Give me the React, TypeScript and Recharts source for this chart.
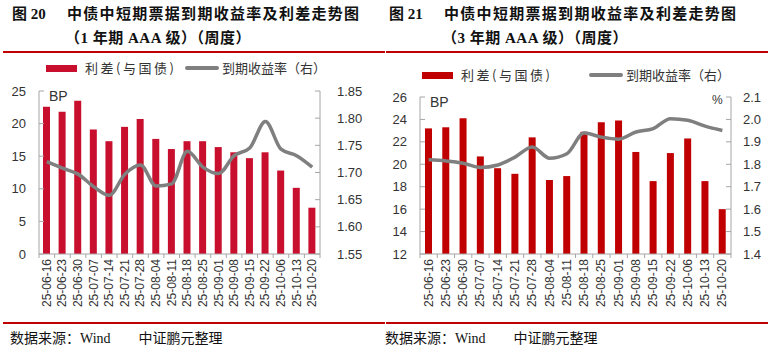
import React from "react"
import { ComposedChart, Bar, Line, XAxis, YAxis } from "recharts"

const dates = ['25-06-16', '25-06-23', '25-06-30', '25-07-07', '25-07-14', '25-07-21', '25-07-28', '25-08-04', '25-08-11', '25-08-18', '25-08-25', '25-09-01', '25-09-08', '25-09-15', '25-09-22', '25-10-06', '25-10-13', '25-10-20']

const spread1y = [22.6, 21.8, 23.5, 19.1, 17.3, 19.5, 20.7, 17.65, 16.1, 17.3, 17.3, 16.4, 15.6, 14.7, 15.6, 12.8, 10.15, 7.1]
const yield1y = [1.72, 1.708, 1.697, 1.674, 1.658, 1.697, 1.714, 1.675, 1.679, 1.739, 1.71, 1.698, 1.731, 1.745, 1.794, 1.743, 1.731, 1.71]

const spread3y = [23.2, 23.3, 24.1, 20.7, 19.65, 19.15, 22.4, 18.6, 18.95, 22.9, 23.75, 23.9, 21.1, 18.5, 21.0, 22.3, 18.5, 16.0]
const yield3y = [1.82, 1.815, 1.805, 1.786, 1.797, 1.832, 1.877, 1.827, 1.847, 1.939, 1.921, 1.912, 1.944, 1.959, 2.003, 1.996, 1.97, 1.951]

const leftTicks1y = [0, 5, 10, 15, 20, 25]
const rightTicks1y = [1.55, 1.6, 1.65, 1.7, 1.75, 1.8, 1.85]
const leftTicks3y = [12, 14, 16, 18, 20, 22, 24, 26]
const rightTicks3y = [1.4, 1.5, 1.6, 1.7, 1.8, 1.9, 2.0, 2.1]

const data1y = dates.map((d, i) => ({ date: d, spread: spread1y[i], yield: yield1y[i] }))
const data3y = dates.map((d, i) => ({ date: d, spread: spread3y[i], yield: yield3y[i] }))

const AXIS = '#A6A6A6'
const TEXT = '#333'
const RED = '#C00000'
const CJK = '"Noto Sans CJK SC", "Liberation Sans", sans-serif'
const SANS = '"Liberation Sans", sans-serif'
const TITLE_FONT = '"Liberation Serif", "Noto Sans CJK SC", serif'

const makeXTick = (step: number, count: number) => (props: any) => {
    const { x, y, payload, index } = props
    const ty = y + 5
    return (
        <g>
            <line x1={x - step / 2} x2={x - step / 2} y1={y} y2={y + 4} stroke={AXIS} />
            {index === count - 1 && (
                <line x1={x + step / 2} x2={x + step / 2} y1={y} y2={y + 4} stroke={AXIS} />
            )}
            <text
                x={x}
                y={ty}
                transform={`rotate(-90, ${x}, ${ty})`}
                textAnchor="end"
                dominantBaseline="central"
                fontSize={12}
                fill={TEXT}
                fontFamily={SANS}
            >
                {payload.value}
            </text>
        </g>
    )
}

// legend drawn as plain html over the chart, page coordinates
function LegendRow({ barColor, x, y, gap }: { barColor: string, x: number, y: number, gap: number }) {
    const txt: React.CSSProperties = { position: 'absolute', top: y - 9, lineHeight: '18px', whiteSpace: 'nowrap', fontFamily: CJK, fontSize: 13, color: TEXT }
    return (
        <>
            <div style={{ position: 'absolute', left: x, top: y - 3.5, width: 31, height: 7, background: barColor }} />
            <div style={{ ...txt, left: x + 39, letterSpacing: 2.5 }}>利差(与国债)</div>
            <div style={{ position: 'absolute', left: x + gap, top: y - 2, width: 34, height: 4, background: '#7F7F7F', borderRadius: 2 }} />
            <div style={{ ...txt, left: x + gap + 37 }}>到期收益率（右）</div>
        </>
    )
}

interface PanelProps {
    data: any[]
    left: number
    width: number
    leftW: number
    rightW: number
    top: number
    barColor: string
    leftDomain: number[]
    leftTicks: number[]
    rightDomain: number[]
    rightTicks: number[]
    digits: number
    leftMargin: number
    rightMargin: number
}

function Panel(p: PanelProps) {
    const height = 265
    const plotW = p.width - p.leftW - p.rightW
    const step = plotW / p.data.length
    return (
        <div style={{ position: 'absolute', left: p.left, top: 55 }}>
            <ComposedChart width={p.width} height={height} data={p.data} margin={{ top: p.top, right: 0, left: 0, bottom: 0 }}>
                <XAxis
                    dataKey="date"
                    interval={0}
                    height={66}
                    axisLine={{ stroke: AXIS }}
                    tickLine={false}
                    tickSize={0}
                    tickMargin={0}
                    tick={makeXTick(step, p.data.length)}
                />
                <YAxis
                    yAxisId="left"
                    width={p.leftW}
                    domain={p.leftDomain}
                    ticks={p.leftTicks}
                    interval={0}
                    axisLine={{ stroke: AXIS }}
                    tickLine={{ stroke: AXIS }}
                    tickSize={-5}
                    tickMargin={p.leftMargin}
                    tick={{ fill: TEXT, fontSize: 13, fontFamily: SANS }}
                />
                <YAxis
                    yAxisId="right"
                    orientation="right"
                    width={p.rightW}
                    domain={p.rightDomain}
                    ticks={p.rightTicks}
                    interval={0}
                    axisLine={{ stroke: AXIS }}
                    tickLine={{ stroke: AXIS }}
                    tickSize={-5}
                    tickMargin={p.rightMargin}
                    tickFormatter={(v: number) => v.toFixed(p.digits)}
                    tick={{ fill: TEXT, fontSize: 13, fontFamily: SANS }}
                />
                <Bar yAxisId="left" dataKey="spread" fill={p.barColor} barSize={7} isAnimationActive={false} />
                <Line
                    yAxisId="right"
                    type="monotone"
                    dataKey="yield"
                    stroke="#7F7F7F"
                    strokeWidth={3.5}
                    dot={false}
                    isAnimationActive={false}
                />
            </ComposedChart>
        </div>
    )
}

function Title({ left, num, sub }: { left: number, num: string, sub: string }) {
    const base: React.CSSProperties = {
        position: 'absolute', fontFamily: TITLE_FONT, fontWeight: 'bold', fontSize: 15,
        lineHeight: '18px', color: '#111', whiteSpace: 'nowrap'
    }
    return (
        <>
            <div style={{ ...base, left: left, top: 5 }}>{num}</div>
            <div style={{ ...base, left: left + 55, top: 5, letterSpacing: 1.3 }}>中债中短期票据到期收益率及利差走势图</div>
            <div style={{ ...base, left: left + 53, top: 29, letterSpacing: 0.5 }}>（{sub} 年期 AAA 级）（周度）</div>
        </>
    )
}

export default function App() {
    const footer: React.CSSProperties = {
        position: 'absolute', top: 328, fontSize: 14, lineHeight: '18px', color: '#111',
        fontFamily: '"Noto Sans CJK SC", sans-serif', whiteSpace: 'nowrap'
    }
    const unit: React.CSSProperties = { position: 'absolute', lineHeight: '16px', color: TEXT, fontFamily: SANS }
    return (
        <div style={{ position: 'absolute', left: 0, top: 0, width: 773, height: 354, background: '#fff', overflow: 'hidden' }}>
            <Title left={12} num="图 20" sub="1" />
            <Title left={389} num="图 21" sub="3" />
            <div style={{ position: 'absolute', left: 3, top: 51, width: 382, height: 2, background: RED }} />
            <div style={{ position: 'absolute', left: 386, top: 51, width: 382, height: 2, background: RED }} />

            <Panel
                data={data1y} left={0} width={386} leftW={39} rightW={66} top={36}
                barColor="#C8102E"
                leftDomain={[0, 25]} leftTicks={leftTicks1y}
                rightDomain={[1.55, 1.85]} rightTicks={rightTicks1y} digits={2}
                leftMargin={18} rightMargin={22}
            />
            <Panel
                data={data3y} left={386} width={387} leftW={34} rightW={42} top={42}
                barColor={RED}
                leftDomain={[12, 26]} leftTicks={leftTicks3y}
                rightDomain={[1.4, 2.1]} rightTicks={rightTicks3y} digits={1}
                leftMargin={18} rightMargin={17}
            />
            <LegendRow barColor="#C8102E" x={46} y={68} gap={139} />
            <LegendRow barColor={RED} x={422} y={75} gap={167} />

            <div style={{ ...unit, left: 49, top: 88, fontSize: 14 }}>BP</div>
            <div style={{ ...unit, left: 430, top: 94, fontSize: 14 }}>BP</div>
            <div style={{ ...unit, left: 712, top: 92, fontSize: 12 }}>%</div>

            <div style={{ position: 'absolute', left: 3, top: 322, width: 382, height: 2, background: RED }} />
            <div style={{ position: 'absolute', left: 386, top: 322, width: 382, height: 2, background: RED }} />
            <div style={{ ...footer, left: 10 }}>数据来源：<span style={{ fontFamily: '"Liberation Serif", serif' }}>Wind</span>　　中证鹏元整理</div>
            <div style={{ ...footer, left: 385 }}>数据来源：<span style={{ fontFamily: '"Liberation Serif", serif' }}>Wind</span>　　中证鹏元整理</div>
        </div>
    )
}
